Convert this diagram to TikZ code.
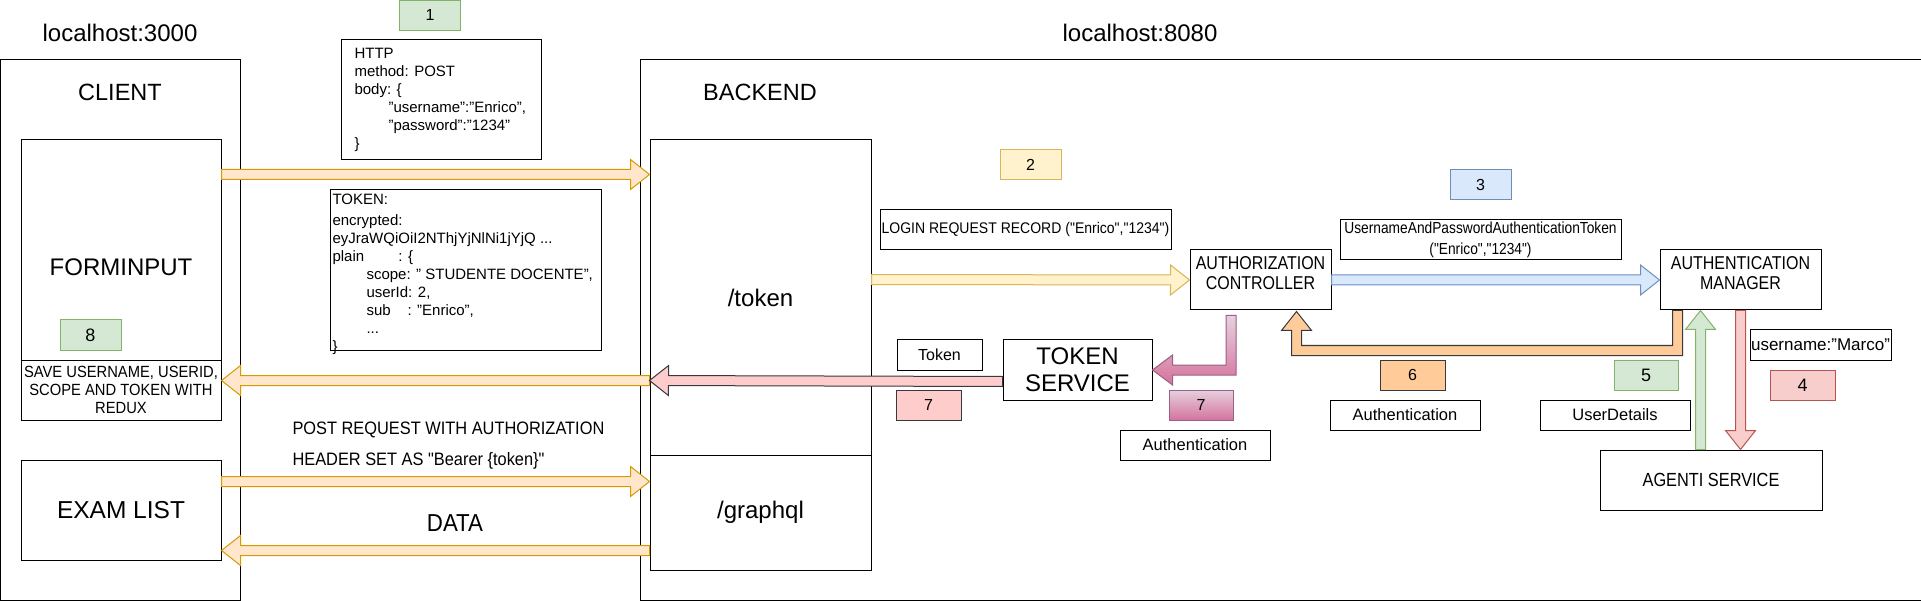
\documentclass[tikz,border=0pt]{standalone}
\usepackage{fontspec}
\setmainfont{Liberation Sans}
\newfontfamily\condA[FakeStretch=0.86]{Liberation Sans}
\newfontfamily\condB[FakeStretch=0.91]{Liberation Sans}
\usetikzlibrary{calc}
\newcommand\myfs[2]{\fontsize{#1pt}{#2pt}\selectfont}
\definecolor{orF}{HTML}{FFE6CC}\definecolor{orD}{HTML}{D79B00}
\definecolor{yeF}{HTML}{FFF2CC}\definecolor{yeD}{HTML}{D6B656}
\definecolor{blF}{HTML}{DAE8FC}\definecolor{blD}{HTML}{6C8EBF}
\definecolor{grF}{HTML}{D5E8D4}\definecolor{grD}{HTML}{82B366}
\definecolor{reF}{HTML}{F8CECC}\definecolor{reD}{HTML}{B85450}
\definecolor{pkF}{HTML}{FFCCCC}\definecolor{dkD}{HTML}{36393D}
\definecolor{oxF}{HTML}{FFCC99}
\definecolor{mgT}{HTML}{E6D0DE}\definecolor{mgB}{HTML}{D5739D}\definecolor{mgD}{HTML}{996185}
\newcommand\flexarrow[3]{%
 \draw[#1] let \p1=(#2), \p2=(#3), \n1={atan2(\y2-\y1,\x2-\x1)}, \n2={veclen(\x2-\x1,\y2-\y1)} in
  [shift={(\p1)}, rotate=\n1]
  (0pt,-5pt) -- ({(\n2-19)*1pt},-5pt) -- ({(\n2-19)*1pt},-15pt) -- ({\n2*1pt},0pt)
  -- ({(\n2-19)*1pt},15pt) -- ({(\n2-19)*1pt},5pt) -- (0pt,5pt) -- cycle;}
\begin{document}
\begin{tikzpicture}[x=1pt, y=-1pt, line width=1pt,
  box/.style={draw=black, fill=white, inner sep=0pt, align=center},
  sz/.style 2 args={minimum width=#1, minimum height=#2},
  num/.style={draw=black, fill=white, inner sep=0pt, minimum width=61, minimum height=30, font=\myfs{16}{19}},
  txt/.style={inner sep=0pt, align=center}]
\useasboundingbox (0,0) rectangle (1921,601);
% outer containers
\node[box, sz={240}{540}] (client) at (120.5,330) {};
\node[box, sz={1290}{540}] (backend) at (1285,330) {};
\node[txt, font=\myfs{24}{29}] (lh3) at (120,33) {localhost:3000};
\node[txt, font=\myfs{24}{29}] (lh8) at (1140,33) {localhost:8080};
\node[txt, font=\myfs{23.5}{29}] (clientT) at (120,92) {CLIENT};
\node[txt, font=\myfs{23.5}{29}] (backT) at (760,92) {BACKEND};
% client side
\node[box, sz={200}{220}] (fi) at (121,250) {};
\node[txt, font=\myfs{24}{29}] (fiT) at (121,267) {FORMINPUT};
\node[box, sz={200}{60}, font=\condB\myfs{16.2}{18}] (save) at (121,390) {SAVE USERNAME, USERID,\\SCOPE AND TOKEN WITH\\REDUX};
\node[num, fill=grF, draw=grD, font=\myfs{18}{20}] (n8) at (90.5,335) {8};
\node[box, sz={200}{100}, font=\myfs{24.5}{29}] (exam) at (121,510) {EXAM LIST};
% backend endpoints
\node[box, sz={221}{315}, font=\myfs{24}{29}] (tok) at (760.5,297.5) {/token};
\node[box, sz={221}{115}, font=\myfs{24}{29}] (gql) at (760.5,512.5) {/graphql};
% http request
\node[box, sz={200}{120}] (http) at (441,100) {};
\node[txt, align=left, anchor=north west, font=\myfs{15}{18}] (httpT) at (354,47.6)
 {HTTP\\method: POST\\body: \{\\\hspace*{34pt}"username":"Enrico",\\\hspace*{34pt}"password":"1234"\\\}};
\node[num, fill=grF, draw=grD] (n1) at (430,15.5) {1};
% token
\node[box, sz={271}{160}] (tkb) at (465.5,270) {};
\node[txt, align=left, anchor=north west, font=\myfs{15}{18}] (tkT) at (332,193.6)
 {TOKEN:\\[3pt]encrypted:\\eyJraWQiOiI2NThjYjNlNi1jYjQ ...\\\makebox[66pt][l]{plain}: \{\\\hspace*{34pt}scope: " STUDENTE DOCENTE",\\\hspace*{34pt}userId: 2,\\\hspace*{34pt}\makebox[41pt][l]{sub}: "Enrico",\\\hspace*{34pt}...\\\}};
% backend flow
\node[box, sz={291}{40}, font=\condB\myfs{15.4}{17}] (login) at (1025.5,230) {LOGIN REQUEST RECORD ("Enrico","1234")};
\node[num, fill=yeF, draw=yeD] (n2) at (1030.5,165) {2};
\node[box, sz={141}{60}] (ac) at (1260.5,280) {};
\node[txt, font=\condA\myfs{18.6}{20.5}] (acT) at (1260.5,273) {AUTHORIZATION\\CONTROLLER};
\node[box, sz={281}{40}, font=\condA\myfs{16}{21}] (upat) at (1480.5,240) {UsernameAndPasswordAuthenticationToken\\("Enrico","1234")};
\node[num, fill=blF, draw=blD] (n3) at (1480.5,185) {3};
\node[box, sz={161}{60}] (am) at (1740.5,280) {};
\node[txt, font=\condA\myfs{18.6}{20.5}] (amT) at (1740.5,273) {AUTHENTICATION\\MANAGER};
\node[box, sz={141}{30}, font=\myfs{17}{20}] (marco) at (1820.5,345) {username:"Marco"};
\node[num, sz={65}{30}, fill=reF, draw=reD, font=\myfs{18}{20}] (n4) at (1802.5,385) {4};
\node[num, sz={64}{30}, fill=grF, draw=grD, font=\myfs{18}{20}] (n5) at (1646,375) {5};
\node[box, sz={150}{30}, font=\myfs{16.5}{20}] (ud) at (1615,415) {UserDetails};
\node[box, sz={222}{60}, font=\condA\myfs{19}{20}] (ag) at (1711,480) {AGENTI SERVICE};
\node[num, sz={65}{30}, fill=oxF, draw=dkD] (n6) at (1412.5,375) {6};
\node[box, sz={150}{30}, font=\myfs{16.5}{20}] (auth6) at (1405,415) {Authentication};
\node[box, sz={149}{60}, font=\myfs{24}{27}] (ts) at (1077.5,370) {TOKEN\\SERVICE};
\node[box, sz={85}{30}, font=\myfs{16}{19}] (tokl) at (939.5,355) {Token};
\node[num, sz={65}{30}, fill=pkF, draw=dkD] (n7a) at (928.5,405) {7};
\node[num, sz={64}{30}, top color=mgT, bottom color=mgB, draw=mgD] (n7b) at (1201,405) {7};
\node[box, sz={150}{30}, font=\myfs{16.5}{20}] (auth7) at (1195,445) {Authentication};
% free texts
\node[txt, align=left, anchor=west, font=\condB\myfs{18}{31}] (postT) at (292,445.5) {POST REQUEST WITH AUTHORIZATION\\HEADER SET AS "Bearer \{token\}"};
\node[txt, font=\condB\myfs{24.5}{27}] (data) at (455,523) {DATA};
% straight flex arrows
\flexarrow{draw=orD, fill=orF}{$(fi.north east)+(0,35)$}{$(tok.north west)+(0,35)$}
\flexarrow{draw=orD, fill=orF}{$(tok.north west)+(0,241)$}{$(save.north east)+(0,21)$}
\flexarrow{draw=dkD, fill=pkF}{$(ts.south west)+(0,-19)$}{$(tok.north west)+(0,241)$}
\flexarrow{draw=orD, fill=orF}{$(exam.north east)+(0,22)$}{$(gql.north west)+(0,27)$}
\flexarrow{draw=orD, fill=orF}{$(gql.north west)+(0,96)$}{$(exam.north east)+(0,91)$}
\flexarrow{draw=yeD, fill=yeF}{$(tok.north east)+(0,140)$}{ac.west}
\flexarrow{draw=blD, fill=blF}{ac.east}{am.west}
\flexarrow{draw=grD, fill=grF}{$(ag.north west)+(101,0)$}{$(am.south west)+(41,0)$}
\flexarrow{draw=reD, fill=reF}{$(am.south west)+(81,0)$}{$(ag.north west)+(141,0)$}
% elbow arrows
\coordinate (o6s) at ($(am.south west)+(18,0)$);
\coordinate (o6e) at ($(ac.south east)+(-35,1)$);
\draw[draw=dkD, fill=oxF] ($(o6s)+(5,0)$) -- ($(o6s)+(5,45)$) -- ($(o6e |- o6s)+(-5,45)$)
  -- ($(o6e)+(-5,19)$) -- ($(o6e)+(-15,19)$) -- (o6e) -- ($(o6e)+(15,19)$) -- ($(o6e)+(5,19)$)
  -- ($(o6e |- o6s)+(5,35)$) -- ($(o6s)+(-5,35)$) -- ($(o6s)+(-5,0)$) -- cycle;
\coordinate (m7s) at ($(ac.south)+(-29.5,5)$);
\coordinate (m7e) at (ts.east);
\draw[draw=mgD, top color=mgT, bottom color=mgB] ($(m7s)+(-5,0)$) -- ($(m7s)+(5,0)$)
  -- ($(m7s |- m7e)+(5,5)$) -- ($(m7e)+(20,5)$) -- ($(m7e)+(20,15)$) -- (m7e)
  -- ($(m7e)+(20,-15)$) -- ($(m7e)+(20,-5)$) -- ($(m7s |- m7e)+(-5,-5)$) -- cycle;
\end{tikzpicture}
\end{document}
